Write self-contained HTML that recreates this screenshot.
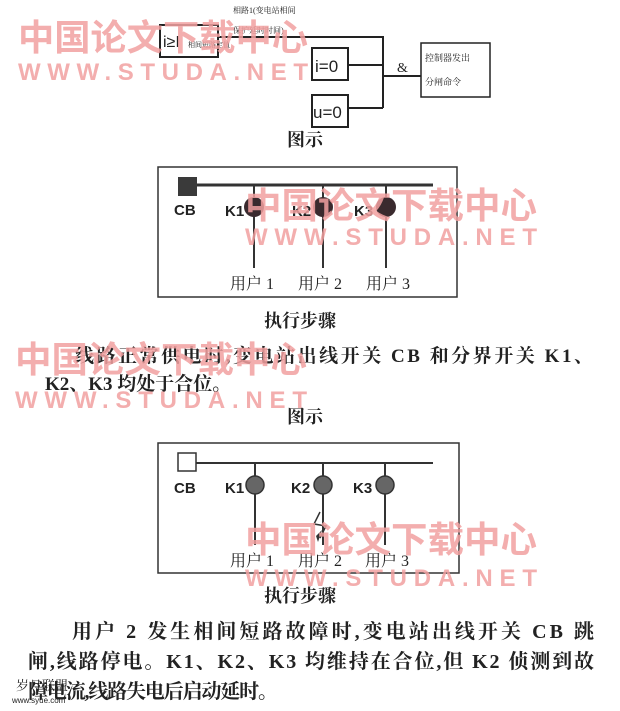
<!DOCTYPE html>
<html><head><meta charset="utf-8"><style>
html,body{margin:0;padding:0;background:#fff;width:620px;height:711px;overflow:hidden}
svg{display:block}
text{font-family:"Liberation Serif","Noto Serif CJK SC",serif;fill:#222}
.s{font-family:"Liberation Sans","Noto Sans CJK SC",sans-serif}
.wm{font-family:"Liberation Sans","Noto Sans CJK SC",sans-serif;fill:#f2a0a0;font-weight:bold}
</style></head><body>
<svg width="620" height="711" viewBox="0 0 620 711" xmlns="http://www.w3.org/2000/svg">
<!-- top logic diagram -->
<g stroke="#222" stroke-width="2" fill="none">
<rect x="160" y="25" width="58" height="32"/>
<polyline points="218,37 383,37 383,108"/>
<rect x="312" y="48" width="36" height="32"/>
<rect x="312" y="95" width="36" height="32"/>
<line x1="348" y1="65" x2="383" y2="65"/>
<line x1="348" y1="108" x2="383" y2="108"/>
<line x1="383" y1="76" x2="421" y2="76"/>
<rect x="421" y="43" width="69" height="54" stroke-width="1.5"/>
</g>
<text class="s" x="163" y="47" font-size="16">i≥I</text>
<text x="188" y="47" font-size="7">相间短路定值</text>
<text x="233" y="13" font-size="8">相路1(变电站相间</text>
<text x="233" y="33" font-size="8">保护延时时间)</text>
<text class="s" x="315" y="72" font-size="17">i=0</text>
<text class="s" x="313" y="118" font-size="17">u=0</text>
<text x="397" y="72" font-size="14">&amp;</text>
<text x="425" y="61" font-size="9">控制器发出</text>
<text x="425" y="85" font-size="9">分闸命令</text>
<text x="287" y="146" font-size="18" font-weight="bold">图示</text>

<!-- diagram 1 -->
<g stroke="#333" stroke-width="2" fill="none">
<rect x="158" y="167" width="299" height="130" stroke-width="1.5"/>
<line x1="196" y1="185" x2="433" y2="185" stroke-width="3"/>
<line x1="254" y1="185" x2="254" y2="268"/>
<line x1="323" y1="185" x2="323" y2="268"/>
<line x1="386" y1="185" x2="386" y2="268"/>
</g>
<rect x="178" y="177" width="19" height="19" fill="#3a3a3a"/>
<circle cx="254" cy="207" r="10" fill="#3a2a2e"/>
<circle cx="323" cy="207" r="10" fill="#3a2a2e"/>
<circle cx="386" cy="207" r="10" fill="#3a2a2e"/>
<text class="s" x="174" y="215" font-size="15" font-weight="bold">CB</text>
<text class="s" x="225" y="216" font-size="15" font-weight="bold">K1</text>
<text class="s" x="292" y="216" font-size="15" font-weight="bold">K2</text>
<text class="s" x="354" y="216" font-size="15" font-weight="bold">K3</text>
<text x="230" y="289" font-size="16">用户 1</text>
<text x="298" y="289" font-size="16">用户 2</text>
<text x="366" y="289" font-size="16">用户 3</text>
<text x="264" y="327" font-size="18" font-weight="bold">执行步骤</text>

<g font-weight="bold">
<text x="75" y="362" font-size="19" textLength="518" lengthAdjust="spacing">线路正常供电时,变电站出线开关 CB 和分界开关 K1、</text>
<text x="45" y="390" font-size="19">K2、K3 均处于合位。</text>
</g>
<text x="287" y="423" font-size="18" font-weight="bold">图示</text>

<!-- diagram 2 -->
<g stroke="#333" stroke-width="2" fill="none">
<rect x="158" y="443" width="301" height="130" stroke-width="1.5"/>
<line x1="196" y1="463" x2="433" y2="463"/>
<line x1="255" y1="463" x2="255" y2="545"/>
<line x1="323" y1="463" x2="323" y2="545"/>
<line x1="385" y1="463" x2="385" y2="545"/>
<rect x="178" y="453" width="18" height="18" stroke-width="1.5"/>
<polyline points="320,512 314,524 326,526 320,538" stroke-width="1.5"/>
</g>
<circle cx="255" cy="485" r="9" fill="#666" stroke="#333" stroke-width="1.5"/>
<circle cx="323" cy="485" r="9" fill="#666" stroke="#333" stroke-width="1.5"/>
<circle cx="385" cy="485" r="9" fill="#666" stroke="#333" stroke-width="1.5"/>
<polygon points="316,536 322,530 318,542" fill="#333"/>
<text class="s" x="174" y="493" font-size="15" font-weight="bold">CB</text>
<text class="s" x="225" y="493" font-size="15" font-weight="bold">K1</text>
<text class="s" x="291" y="493" font-size="15" font-weight="bold">K2</text>
<text class="s" x="353" y="493" font-size="15" font-weight="bold">K3</text>
<text x="230" y="566" font-size="16">用户 1</text>
<text x="298" y="566" font-size="16">用户 2</text>
<text x="365" y="566" font-size="16">用户 3</text>
<text x="264" y="602" font-size="18" font-weight="bold">执行步骤</text>

<g font-weight="bold">
<text x="72" y="638" font-size="20" textLength="522" lengthAdjust="spacing">用户 2 发生相间短路故障时,变电站出线开关 CB 跳</text>
<text x="28" y="668" font-size="20" textLength="566" lengthAdjust="spacing">闸,线路停电。K1、K2、K3 均维持在合位,但 K2 侦测到故</text>
<text x="28" y="698" font-size="20" textLength="250" lengthAdjust="spacing">障电流,线路失电后启动延时。</text>
</g>

<!-- watermarks -->
<g opacity="0.85">
<text class="wm" x="18" y="50" font-size="36" textLength="290" lengthAdjust="spacingAndGlyphs">中国论文下载中心</text>
<text class="wm" x="18" y="80" font-size="24" textLength="290" lengthAdjust="spacing">WWW.STUDA.NET</text>
<text class="wm" x="245" y="218" font-size="36" textLength="292" lengthAdjust="spacingAndGlyphs">中国论文下载中心</text>
<text class="wm" x="245" y="245" font-size="24" textLength="292" lengthAdjust="spacing">WWW.STUDA.NET</text>
<text class="wm" x="15" y="372" font-size="36" textLength="292" lengthAdjust="spacingAndGlyphs">中国论文下载中心</text>
<text class="wm" x="15" y="408" font-size="24" textLength="292" lengthAdjust="spacing">WWW.STUDA.NET</text>
<text class="wm" x="245" y="552" font-size="36" textLength="292" lengthAdjust="spacingAndGlyphs">中国论文下载中心</text>
<text class="wm" x="245" y="586" font-size="24" textLength="292" lengthAdjust="spacing">WWW.STUDA.NET</text>
</g>
<text x="16" y="690" font-size="13" fill="#111">岁月联盟</text>
<text class="s" x="12" y="703" font-size="8" fill="#111">www.syue.com</text>
</svg>
</body></html>
